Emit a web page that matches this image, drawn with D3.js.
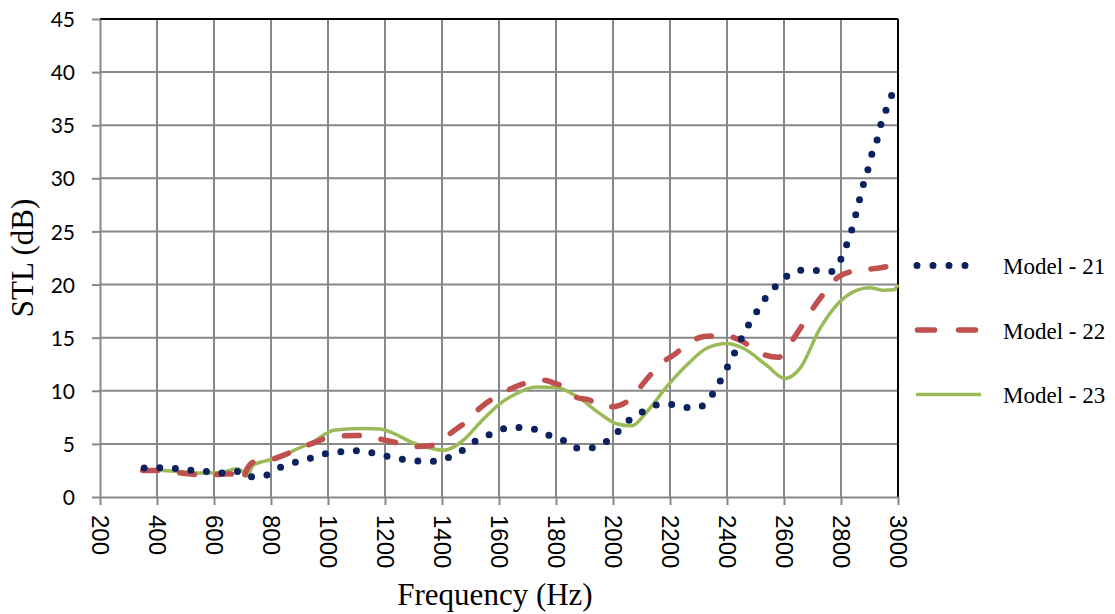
<!DOCTYPE html>
<html>
<head>
<meta charset="utf-8">
<script src="https://cdn.jsdelivr.net/npm/d3@7"></script>
<style>
  body { margin: 0; background: #fff; }
</style>
</head>
<body>
<div id="chart"></div>
<script>
// values
var xTicks = [200, 400, 600, 800, 1000, 1200, 1400, 1600, 1800, 2000, 2200, 2400, 2600, 2800, 3000];
var yTicks = [0, 5, 10, 15, 20, 25, 30, 35, 40, 45];

var freq21 = [355, 410, 466, 522, 577, 633, 688, 722, 776, 827, 878, 932, 986, 1040, 1095, 1147, 1196, 1247, 1291, 1340, 1388, 1426, 1469, 1507, 1553, 1600, 1650, 1695, 1741, 1785, 1830, 1861, 1894, 1932, 1975, 2011, 2043, 2081, 2120, 2170, 2218, 2262, 2302, 2338, 2368, 2393, 2420, 2470, 2499, 2529, 2566, 2606, 2655, 2710, 2764, 2798, 2819, 2837, 2852, 2866, 2880, 2897, 2911, 2930, 2943, 2964, 2984, 3000];
var stl21 = [2.73, 2.76, 2.67, 2.5, 2.4, 2.25, 2.4, 1.9, 2.0, 2.73, 3.2, 3.6, 4.05, 4.25, 4.35, 4.2, 3.9, 3.6, 3.45, 3.35, 3.4, 3.75, 4.35, 5.1, 5.7, 6.28, 6.56, 6.5, 6.25, 5.7, 5.27, 4.65, 4.6, 4.65, 5.18, 5.97, 6.97, 7.6, 8.3, 8.73, 8.68, 8.42, 8.45, 9.26, 10.5, 11.8, 13.2, 15.95, 17.2, 18.5, 19.7, 20.7, 21.35, 21.33, 21.2, 22.3, 23.7, 25.1, 26.6, 28.1, 29.57, 31.05, 32.55, 33.9, 35.4, 36.8, 38.2, 38.7];

var freq22 = [350, 400, 450, 500, 550, 600, 650, 680, 697, 715, 740, 790, 850, 900, 950, 1000, 1050, 1100, 1150, 1200, 1250, 1300, 1350, 1400, 1430, 1490, 1530, 1600, 1655, 1720, 1760, 1790, 1830, 1870, 1920, 1950, 1995, 2050, 2085, 2125, 2170, 2220, 2265, 2320, 2390, 2450, 2520, 2580, 2620, 2660, 2700, 2750, 2790, 2850, 2915, 2960, 3000];
var stl22 = [2.5, 2.5, 2.4, 2.2, 2.1, 2.1, 2.2, 2.0, 1.4, 2.6, 3.3, 3.45, 4.0, 4.6, 5.1, 5.6, 5.75, 5.8, 5.65, 5.35, 5.05, 4.75, 4.8, 5.3, 6.0, 7.2, 8.3, 9.6, 10.35, 10.9, 11.0, 10.75, 10.35, 9.4, 9.1, 8.6, 8.5, 9.0, 10.0, 11.3, 12.6, 13.5, 14.5, 15.1, 15.2, 14.7, 13.5, 13.15, 14.4, 16.0, 17.7, 19.5, 20.7, 21.3, 21.5, 21.7, 22.3];

var freq23 = [352, 450, 577, 640, 680, 700, 715, 738, 780, 832, 890, 948, 1019, 1066, 1120, 1182, 1230, 1290, 1340, 1405, 1440, 1475, 1533, 1604, 1650, 1732, 1802, 1884, 1954, 2013, 2066, 2118, 2188, 2258, 2329, 2399, 2457, 2539, 2604, 2656, 2726, 2795, 2855, 2900, 2950, 2985, 3000];
var stl23 = [2.58, 2.45, 2.25, 2.4, 2.67, 2.4, 1.95, 3.0, 3.4, 3.77, 4.5, 5.2, 6.28, 6.4, 6.45, 6.4, 6.0, 5.2, 4.75, 4.4, 4.7, 5.35, 7.0, 8.8, 9.58, 10.36, 10.3, 9.26, 7.85, 6.9, 6.7, 8.0, 10.36, 12.4, 14.0, 14.45, 14.0, 12.4, 11.15, 12.1, 15.85, 18.36, 19.46, 19.7, 19.46, 19.5, 20.0];

var seriesNames = ["Model - 21", "Model - 22", "Model - 23"];
var seriesColors = ["#0b2160", "#c0504d", "#9bbb59"];

var W = 1115, H = 614;
var margin = {top: 19, right: 217, bottom: 117, left: 100};
var width = W - margin.left - margin.right,
    height = H - margin.top - margin.bottom;

var svg = d3.select("#chart").append("svg")
    .attr("width", W)
    .attr("height", H)
    .style("font-family", "'Liberation Serif', 'Times New Roman', serif");

var g = svg.append("g")
    .attr("transform", "translate(" + margin.left + "," + margin.top + ")");

var x = d3.scaleLinear().domain([200, 3000]).range([0, width]);
var y = d3.scaleLinear().domain([0, 45]).range([height, 0]);

var gridColor = "#888888";

// grid
g.append("g").selectAll("line").data(xTicks.slice(1, -1)).join("line")
    .attr("x1", d => x(d)).attr("x2", d => x(d))
    .attr("y1", 0).attr("y2", height)
    .attr("stroke", gridColor).attr("stroke-width", 2);
g.append("g").selectAll("line").data(yTicks.slice(1, -1)).join("line")
    .attr("x1", 0).attr("x2", width)
    .attr("y1", d => y(d)).attr("y2", d => y(d))
    .attr("stroke", gridColor).attr("stroke-width", 2);

// top and right border
g.append("line").attr("x1", 0).attr("x2", width).attr("y1", 0).attr("y2", 0)
    .attr("stroke", "#000").attr("stroke-width", 2);
g.append("line").attr("x1", width).attr("x2", width).attr("y1", 0).attr("y2", height)
    .attr("stroke", "#000").attr("stroke-width", 2);

// axes
var xAxis = g.append("g")
    .attr("transform", "translate(0," + height + ")")
    .call(d3.axisBottom(x).tickValues(xTicks).tickFormat(d3.format("d")).tickSize(8).tickSizeOuter(0));
xAxis.select(".domain").attr("stroke", gridColor).attr("stroke-width", 2);
xAxis.selectAll(".tick line").attr("stroke", gridColor).attr("stroke-width", 2);
xAxis.selectAll(".tick text")
    .attr("transform", "rotate(90)")
    .attr("x", 18).attr("y", 0).attr("dy", "0.36em")
    .style("text-anchor", "start")
    .style("font-family", "'Liberation Sans', Arial, sans-serif")
    .style("font-size", "24px")
    .attr("fill", "#000");

var yAxis = g.append("g")
    .call(d3.axisLeft(y).tickValues(yTicks).tickSize(8).tickSizeOuter(0));
yAxis.select(".domain").attr("stroke", gridColor).attr("stroke-width", 2);
yAxis.selectAll(".tick line").attr("stroke", gridColor).attr("stroke-width", 2);
yAxis.selectAll(".tick text")
    .attr("x", -25).attr("dy", "0.36em")
    .style("font-family", "Lato, 'Open Sans', sans-serif")
    .style("font-size", "21px")
    .attr("fill", "#000");

// series
function toPoints(fs, vs) {
    return fs.map(function(f, i) { return {f: f, v: vs[i]}; });
}
var line = d3.line()
    .x(d => x(d.f))
    .y(d => y(d.v))
    .curve(d3.curveMonotoneX);

g.append("path")
    .datum(toPoints(freq23, stl23))
    .attr("fill", "none")
    .attr("stroke", seriesColors[2])
    .attr("stroke-width", 3.5)
    .attr("stroke-linejoin", "round")
    .attr("d", line);

g.append("path")
    .datum(toPoints(freq22, stl22))
    .attr("fill", "none")
    .attr("stroke", seriesColors[1])
    .attr("stroke-width", 5.5)
    .attr("stroke-linecap", "round")
    .attr("stroke-dasharray", "15 22")
    .attr("d", line);

g.append("path")
    .datum(toPoints(freq21, stl21))
    .attr("fill", "none")
    .attr("stroke", seriesColors[0])
    .attr("stroke-width", 7)
    .attr("stroke-linecap", "round")
    .attr("stroke-dasharray", "0 15.6")
    .attr("d", line);

// legend
var legendY = [265.5, 330, 394.5];
var legend = svg.append("g");
legend.append("line")
    .attr("x1", 917).attr("x2", 981).attr("y1", legendY[0]).attr("y2", legendY[0])
    .attr("stroke", seriesColors[0]).attr("stroke-width", 7)
    .attr("stroke-linecap", "round").attr("stroke-dasharray", "0 16");
legend.append("line")
    .attr("x1", 917.5).attr("x2", 978).attr("y1", legendY[1]).attr("y2", legendY[1])
    .attr("stroke", seriesColors[1]).attr("stroke-width", 5.5)
    .attr("stroke-linecap", "round").attr("stroke-dasharray", "17 24");
legend.append("line")
    .attr("x1", 916).attr("x2", 981).attr("y1", legendY[2]).attr("y2", legendY[2])
    .attr("stroke", seriesColors[2]).attr("stroke-width", 3.5);
legend.selectAll("text").data(seriesNames).join("text")
    .attr("x", 1003)
    .attr("y", (d, i) => legendY[i] + 2)
    .attr("dy", "0.3em")
    .style("font-size", "23px")
    .attr("fill", "#000")
    .text(d => d);

// axis titles
svg.append("text")
    .attr("x", margin.left + width / 2 - 4)
    .attr("y", 605)
    .attr("text-anchor", "middle")
    .style("font-size", "31px")
    .attr("fill", "#000")
    .text("Frequency (Hz)");

svg.append("text")
    .attr("transform", "translate(33,258) rotate(-90)")
    .attr("text-anchor", "middle")
    .style("font-size", "31px")
    .attr("fill", "#000")
    .text("STL (dB)");
</script>
</body>
</html>
